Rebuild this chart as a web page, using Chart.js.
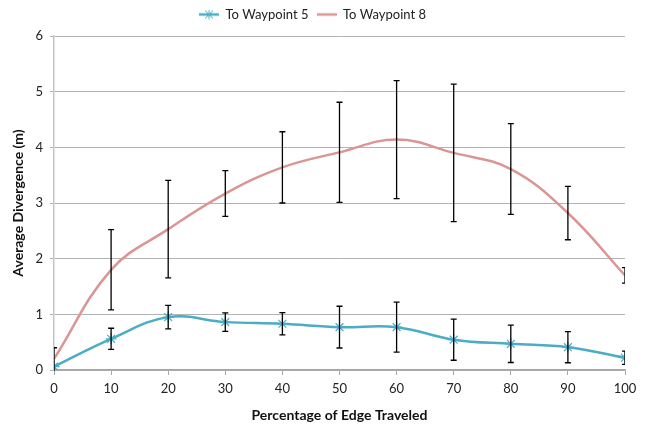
<!DOCTYPE html>
<html>
<head>
<meta charset="utf-8">
<script src="https://cdn.jsdelivr.net/npm/chart.js@4/dist/chart.umd.min.js"></script>
<style>
  html, body { margin: 0; padding: 0; background: #fff; }
  #wrap { width: 649px; height: 427px; }
</style>
</head>
<body>
<div id="wrap"><canvas id="chart"></canvas></div>
<script>
// percentage of edge traveled
const percents = [0, 10, 20, 30, 40, 50, 60, 70, 80, 90, 100];

// average divergence (m) and error bar half-heights
const waypoint5 = [0.06, 0.56, 0.95, 0.86, 0.83, 0.77, 0.77, 0.545, 0.47, 0.41, 0.22];
const waypoint5Err = [0.34, 0.19, 0.21, 0.165, 0.2, 0.375, 0.45, 0.37, 0.335, 0.28, 0.12];
const waypoint8 = [0.2, 1.80, 2.53, 3.17, 3.64, 3.91, 4.14, 3.90, 3.61, 2.82, 1.70];
const waypoint8Err = [0, 0.72, 0.875, 0.41, 0.64, 0.9, 1.06, 1.235, 0.815, 0.48, 0.14];

const blue = '#4bacc6';
const pink = '#d99694';
const fontName = 'Lato, "Liberation Sans", sans-serif';

//legend swatch: short line, optionally with a star marker
function swatch(color, star){
    const c = document.createElement('canvas');
    c.width = 20; c.height = 10;
    const ctx = c.getContext('2d');
    ctx.strokeStyle = color;
    ctx.lineWidth = 2.5;
    ctx.beginPath(); ctx.moveTo(0, 5); ctx.lineTo(20, 5); ctx.stroke();
    if(star){
        ctx.lineWidth = 1;
        ctx.beginPath();
        ctx.moveTo(6, 1); ctx.lineTo(14, 9);
        ctx.moveTo(14, 1); ctx.lineTo(6, 9);
        ctx.moveTo(10, 0.5); ctx.lineTo(10, 9.5);
        ctx.stroke();
    }
    return c;
}

//draws vertical error bars using the chart's own scales
const errorBars = {
    id: 'errorBars',
    afterDatasetsDraw(chart){
        const ctx = chart.ctx;
        const y = chart.scales.y;
        const area = chart.chartArea;
        ctx.save();
        ctx.beginPath();
        ctx.rect(area.left, area.top, area.right - area.left, area.bottom - area.top + 1);
        ctx.clip();
        ctx.strokeStyle = '#000';
        ctx.lineWidth = 1.3;
        chart.data.datasets.forEach((ds, i) => {
            const meta = chart.getDatasetMeta(i);
            meta.data.forEach((pt, j) => {
                const err = ds.errors[j];
                if(!err) return;
                const v = ds.data[j].y;
                const top = y.getPixelForValue(v + err);
                const bot = y.getPixelForValue(v - err);
                ctx.beginPath();
                ctx.moveTo(pt.x, top); ctx.lineTo(pt.x, bot);
                ctx.moveTo(pt.x - 3, top); ctx.lineTo(pt.x + 3, top);
                ctx.moveTo(pt.x - 3, bot); ctx.lineTo(pt.x + 3, bot);
                ctx.stroke();
            });
        });
        ctx.restore();
    }
};

//fixes the legend band height
const legendHeight = {
    id: 'legendHeight',
    beforeInit(chart){
        const fit = chart.legend.fit;
        chart.legend.fit = function(){
            fit.call(this);
            this.height = 36;
        };
    }
};

function main(){
    const canvas = document.querySelector('#chart');
    new Chart(canvas.getContext('2d'), {
        type: 'line',
        data: {
            datasets: [{
                label: 'To Waypoint 5',
                data: percents.map((p, i) => ({x: p, y: waypoint5[i]})),
                errors: waypoint5Err,
                borderColor: blue,
                backgroundColor: blue,
                borderWidth: 2.5,
                tension: 0.4,
                pointStyle: 'star',
                pointRadius: 5.5,
                pointBorderWidth: 1.2,
                pointBorderColor: blue,
            }, {
                label: 'To Waypoint 8',
                data: percents.map((p, i) => ({x: p, y: waypoint8[i]})),
                errors: waypoint8Err,
                borderColor: pink,
                backgroundColor: pink,
                borderWidth: 2.5,
                tension: 0.4,
                pointRadius: 0,
            }]
        },
        options: {
            responsive: true,
            maintainAspectRatio: false,
            animation: false,
            layout: { padding: { top: 0, right: 24, bottom: 3, left: 0 } },
            plugins: {
                tooltip: { enabled: false },
                legend: {
                    position: 'top',
                    labels: {
                        usePointStyle: true,
                        pointStyleWidth: 20,
                        boxHeight: 10,
                        padding: 8,
                        color: '#222',
                        font: { family: fontName, size: 13 },
                        generateLabels(chart){
                            return chart.data.datasets.map((ds, i) => ({
                                text: ds.label,
                                pointStyle: swatch(ds.borderColor, i === 0),
                                datasetIndex: i,
                                fontColor: '#222',
                                lineWidth: 0,
                            }));
                        }
                    }
                }
            },
            scales: {
                x: {
                    type: 'linear',
                    min: 0,
                    max: 100,
                    ticks: { stepSize: 10, color: '#222', padding: 6, font: { family: fontName, size: 13 } },
                    grid: { drawOnChartArea: false, color: '#a6a6a6', tickLength: 5 },
                    border: { color: '#a6a6a6', width: 1.5 },
                    title: {
                        display: true,
                        text: 'Percentage of Edge Traveled',
                        color: '#111',
                        font: { family: fontName, size: 14, weight: 'bold' },
                        padding: { top: 4, bottom: 0 }
                    },
                    afterFit(scale){ scale.height = 54; }
                },
                y: {
                    min: 0,
                    max: 6,
                    ticks: { stepSize: 1, color: '#222', padding: 7, font: { family: fontName, size: 13 } },
                    grid: { color: '#b3b3b3', tickLength: 4 },
                    border: { color: '#c4c4c4', width: 1.5 },
                    title: {
                        display: true,
                        text: 'Average Divergence (m)',
                        color: '#111',
                        font: { family: fontName, size: 14, weight: 'bold' },
                        padding: { top: 10, bottom: 4 }
                    },
                    afterFit(scale){ scale.width = 54; }
                }
            }
        },
        plugins: [errorBars, legendHeight]
    });
}

main()
</script>
</body>
</html>
